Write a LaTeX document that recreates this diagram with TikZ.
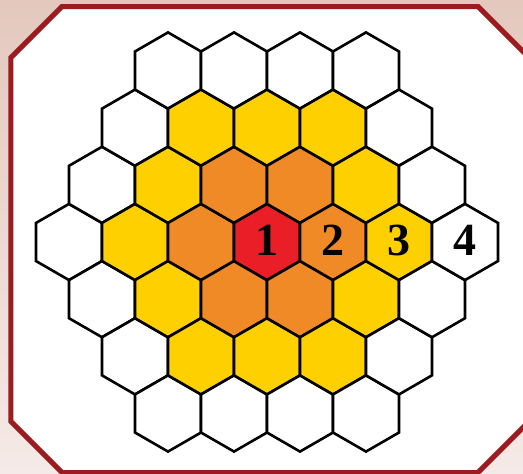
\documentclass[tikz,border=0pt]{standalone}
\usepackage{fontspec}
\setmainfont{Liberation Serif}
\begin{document}
\begin{tikzpicture}[x=1pt,y=-1pt]
\definecolor{bgtop}{RGB}{228,200,190}
\definecolor{bgbot}{RGB}{245,234,231}
\definecolor{framered}{RGB}{155,27,30}
\definecolor{cred}{RGB}{234,30,38}
\definecolor{corange}{RGB}{240,138,38}
\definecolor{cyellow}{RGB}{255,208,0}
\tikzset{
  hexcell/.style={draw=black, line width=2.6pt, line join=miter},
  numlabel/.style={font=\bfseries\fontsize{46}{46}\selectfont, inner sep=0pt, yshift=2pt},
  frameline/.style={draw=framered, line width=5pt, fill=white, line join=miter}
}
\useasboundingbox (0,0) rectangle (523,474);
\shade[top color=bgtop, bottom color=bgbot] (0,0) rectangle (523,474);
\path[frameline] (62,6.5) -- (478,6.5) -- (529,57.5) -- (529,421.5) -- (478,472.5)
  -- (62,472.5) -- (10.8,421.3) -- (10.8,57.7) -- cycle;
\def\R{38.1}
\foreach \q in {-3,...,3}{
  \foreach \r in {-3,...,3}{
    \pgfmathtruncatemacro\s{-\q-\r}
    \pgfmathtruncatemacro\d{max(abs(\q),abs(\r),abs(\s))}
    \ifnum\d<4
      \ifcase\d \def\cc{cred}\or \def\cc{corange}\or \def\cc{cyellow}\else \def\cc{white}\fi
      \coordinate (h\q r\r) at ({267+66*(\q+\r/2)},{242+57.16*\r});
      \path[hexcell, fill=\cc, shift={(h\q r\r)}]
        (90:\R) -- (30:\R) -- (-30:\R) -- (-90:\R) -- (-150:\R) -- (150:\R) -- cycle;
    \fi
  }
}
\node[numlabel] (n1) at (h0r0) {1};
\node[numlabel] (n2) at (h1r0) {2};
\node[numlabel] (n3) at (h2r0) {3};
\node[numlabel] (n4) at (h3r0) {4};
\end{tikzpicture}
\end{document}
